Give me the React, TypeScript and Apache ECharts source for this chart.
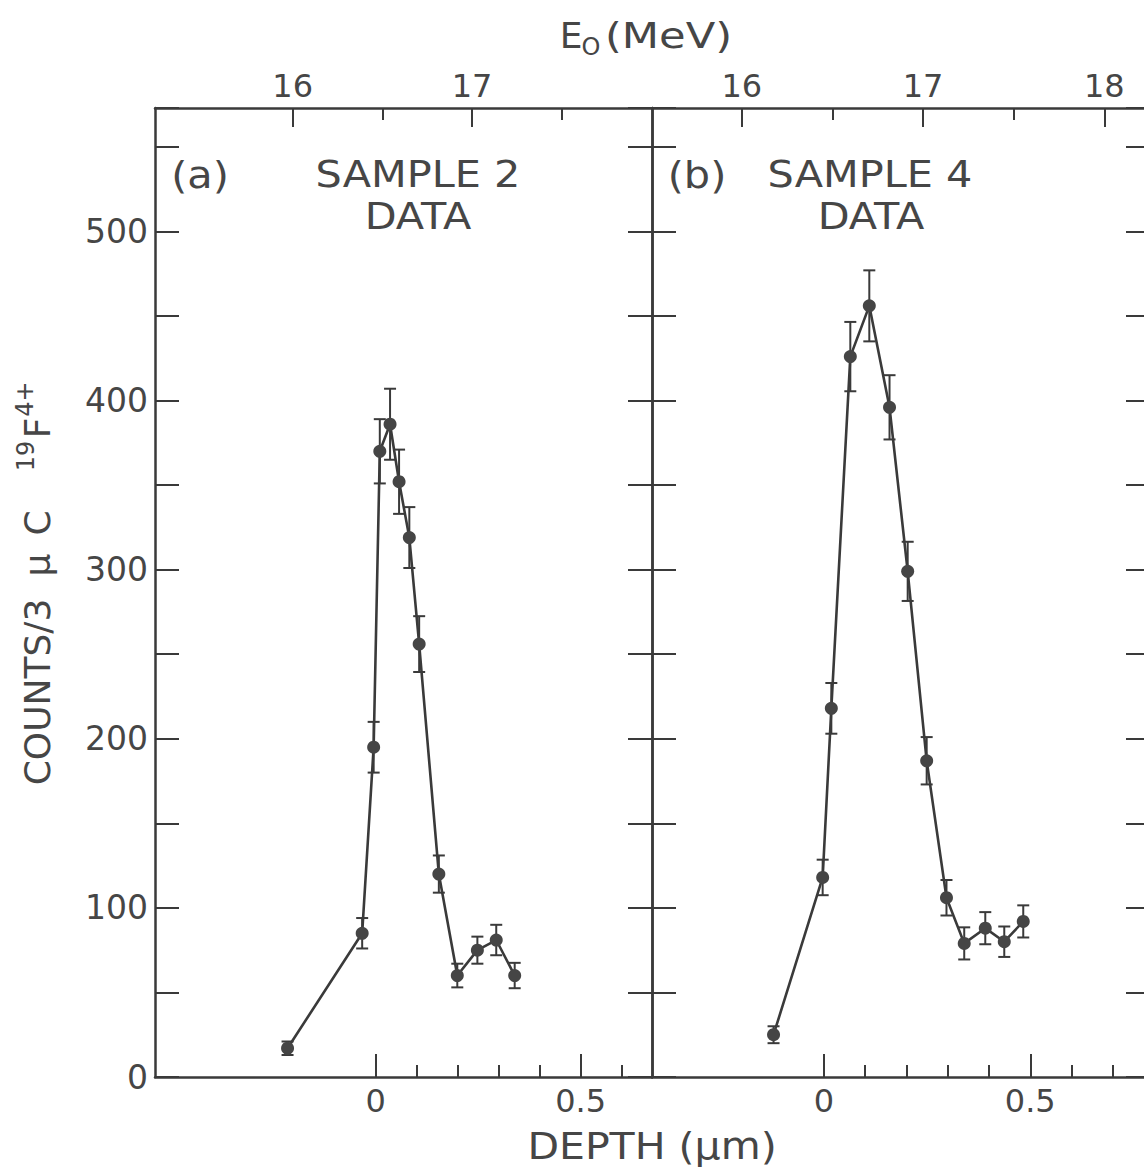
import React, { useEffect, useRef } from 'react';
import * as echarts from 'echarts';

// ---- data ----
const sample2Depth = [-0.215, -0.033, -0.005, 0.010, 0.035, 0.057, 0.082, 0.106, 0.154, 0.199, 0.248, 0.294, 0.339];
const sample2Counts = [17, 85, 195, 370, 386, 352, 319, 256, 120, 60, 75, 81, 60];
const sample2Err = [4, 9, 15, 19, 21, 19, 18, 16.5, 11, 7, 8, 9, 7.5];

const sample4Depth = [-0.122, -0.003, 0.018, 0.064, 0.110, 0.159, 0.203, 0.249, 0.297, 0.340, 0.391, 0.437, 0.483];
const sample4Counts = [25, 118, 218, 426, 456, 396, 299, 187, 106, 79, 88, 80, 92];
const sample4Err = [5, 10.5, 15, 20.5, 21, 19, 17.5, 14, 10.5, 9.5, 9.5, 9, 9.5];

const depthMajorTicks = [0, 0.5];
const depthMinorTicksA = [0.1, 0.2, 0.3, 0.4, 0.6];
const depthMinorTicksB = [0.1, 0.2, 0.3, 0.4, 0.6, 0.7];
const energyMajorTicksA = [16, 17];
const energyMinorTicksA = [16.5, 17.5];
const energyMajorTicksB = [16, 17, 18];
const energyMinorTicksB = [16.5, 17.5];
const countsLabelStep = 100;
const countsTickStep = 50;

// axis ranges (panel edges)
const depthRangeA = [-0.5383, 0.6739];
const depthRangeB = [-0.4165, 0.7901];
const energyRangeA = [15.232, 18.004];
const energyRangeB = [15.505, 18.252];
const countsRange = [0, 573];

const FONT = '"DejaVu Sans", "Liberation Sans", sans-serif';
const INK = '#3a3a3a';
const TXT = '#464646';

const GRID_TOP = 108;
const GRID_H = 969;

function errRender(params: any, api: any) {
  const x = api.value(0);
  const y = api.value(1);
  const e = api.value(2);
  const hi = api.coord([x, y + e]);
  const lo = api.coord([x, y - e]);
  const hw = 6;
  const style = { stroke: INK, lineWidth: 2 };
  return {
    type: 'group',
    children: [
      { type: 'line', shape: { x1: hi[0], y1: hi[1], x2: lo[0], y2: lo[1] }, style },
      { type: 'line', shape: { x1: hi[0] - hw, y1: hi[1], x2: hi[0] + hw, y2: hi[1] }, style },
      { type: 'line', shape: { x1: lo[0] - hw, y1: lo[1], x2: lo[0] + hw, y2: lo[1] }, style },
    ],
  };
}

function depthAxes(gridIndex: number, range: number[], minor: number[]) {
  const common = {
    type: 'value',
    gridIndex,
    position: 'bottom',
    min: range[0],
    max: range[1],
    splitLine: { show: false },
  };
  return [
    {
      ...common,
      axisLine: { show: true, onZero: false, lineStyle: { color: INK, width: 2.5 } },
      axisTick: { show: true, inside: true, length: 23, customValues: depthMajorTicks, lineStyle: { color: INK, width: 2 } },
      axisLabel: {
        show: true,
        customValues: depthMajorTicks,
        margin: 8,
        fontFamily: FONT,
        fontSize: 32,
        color: TXT,
        formatter: (v: number) => (v === 0 ? '0' : String(v)),
      },
    },
    {
      ...common,
      axisLine: { show: false, onZero: false },
      axisTick: { show: true, inside: true, length: 12, customValues: minor, lineStyle: { color: INK, width: 2 } },
      axisLabel: { show: false },
    },
  ];
}

function energyAxes(gridIndex: number, range: number[], major: number[], minor: number[]) {
  const common = {
    type: 'value',
    gridIndex,
    position: 'top',
    min: range[0],
    max: range[1],
    splitLine: { show: false },
  };
  return [
    {
      ...common,
      axisLine: { show: true, onZero: false, lineStyle: { color: INK, width: 2.5 } },
      axisTick: { show: true, inside: true, length: 19, customValues: major, lineStyle: { color: INK, width: 2 } },
      axisLabel: {
        show: true,
        customValues: major,
        margin: 6,
        fontFamily: FONT,
        fontSize: 32,
        color: TXT,
        formatter: (v: number) => String(Math.round(v)),
      },
    },
    {
      ...common,
      axisLine: { show: false, onZero: false },
      axisTick: { show: true, inside: true, length: 12, customValues: minor, lineStyle: { color: INK, width: 2 } },
      axisLabel: { show: false },
    },
  ];
}

function countsAxis(gridIndex: number, position: string, showLabels: boolean) {
  return {
    type: 'value',
    gridIndex,
    position,
    min: countsRange[0],
    max: countsRange[1],
    interval: countsTickStep,
    splitLine: { show: false },
    axisLine: { show: true, onZero: false, lineStyle: { color: INK, width: 2.5 } },
    axisTick: { show: true, inside: true, length: 24, lineStyle: { color: INK, width: 2 } },
    axisLabel: {
      show: showLabels,
      margin: 7,
      fontFamily: FONT,
      fontSize: 33,
      color: TXT,
      formatter: (v: number) => (Math.abs(v % countsLabelStep) < 1e-6 ? String(v) : ''),
    },
  };
}

function txt(text: string, x: number, y: number, size: number, align = 'center', extra: any = {}) {
  return {
    type: 'text',
    x,
    y,
    ...extra,
    style: {
      text,
      fill: TXT,
      font: `${size}px ${FONT}`,
      align,
      verticalAlign: 'middle',
    },
  };
}

const rot = { rotation: Math.PI / 2 };
const wide = { scaleX: 1.09 };

export default function App() {
  const ref = useRef<HTMLDivElement>(null);

  useEffect(() => {
    if (!ref.current) return;
    const chart = echarts.init(ref.current, undefined, { renderer: 'svg' });

    const s2 = sample2Depth.map((d, i) => [d, sample2Counts[i]]);
    const s2e = sample2Depth.map((d, i) => [d, sample2Counts[i], sample2Err[i]]);
    const s4 = sample4Depth.map((d, i) => [d, sample4Counts[i]]);
    const s4e = sample4Depth.map((d, i) => [d, sample4Counts[i], sample4Err[i]]);

    const lineSeries = (data: number[][], xi: number, yi: number) => ({
      type: 'line',
      data,
      xAxisIndex: xi,
      yAxisIndex: yi,
      symbol: 'circle',
      symbolSize: 13,
      showSymbol: true,
      clip: false,
      z: 3,
      lineStyle: { color: INK, width: 2.6 },
      itemStyle: { color: '#454545', borderWidth: 0 },
    });
    const errSeries = (data: number[][], xi: number, yi: number) => ({
      type: 'custom',
      data,
      xAxisIndex: xi,
      yAxisIndex: yi,
      encode: { x: 0, y: 1 },
      clip: false,
      z: 2,
      renderItem: errRender,
    });

    const option: any = {
      animation: false,
      backgroundColor: '#ffffff',
      grid: [
        { left: 155, top: GRID_TOP, width: 497, height: GRID_H, containLabel: false, outerBoundsMode: 'none' },
        { left: 652, top: GRID_TOP, width: 498, height: GRID_H, containLabel: false, outerBoundsMode: 'none' },
      ],
      xAxis: [
        ...depthAxes(0, depthRangeA, depthMinorTicksA),
        ...energyAxes(0, energyRangeA, energyMajorTicksA, energyMinorTicksA),
        ...depthAxes(1, depthRangeB, depthMinorTicksB),
        ...energyAxes(1, energyRangeB, energyMajorTicksB, energyMinorTicksB),
      ],
      yAxis: [
        countsAxis(0, 'left', true),
        countsAxis(0, 'right', false),
        countsAxis(1, 'left', false),
        countsAxis(1, 'right', false),
      ],
      series: [
        errSeries(s2e, 0, 0),
        lineSeries(s2, 0, 0),
        errSeries(s4e, 4, 2),
        lineSeries(s4, 4, 2),
      ],
      graphic: [
        txt('(a)', 200, 175, 38, 'center', wide),
        txt('SAMPLE 2', 418, 174, 38, 'center', wide),
        txt('DATA', 418, 216, 38, 'center', wide),
        txt('(b)', 697, 175, 38, 'center', wide),
        txt('SAMPLE 4', 870, 174, 38, 'center', wide),
        txt('DATA', 871, 216, 38, 'center', wide),
        txt('E', 571, 35, 36),
        txt('O', 591, 47, 24),
        txt('(MeV)', 605, 35, 36, 'left', { scaleX: 1.2 }),
        txt('DEPTH (μm)', 652, 1146, 38, 'center', { scaleX: 1.08 }),
        txt('COUNTS/3', 37, 692, 36, 'center', rot),
        txt('μ', 37, 565, 36, 'center', rot),
        txt('C', 37, 523, 36, 'center', rot),
        txt('19', 26, 456, 24, 'center', rot),
        txt('F', 37, 428, 36, 'center', rot),
        txt('4+', 25, 399, 24, 'center', rot),
      ],
    };

    chart.setOption(option);
    return () => chart.dispose();
  }, []);

  return (
    <div
      ref={ref}
      style={{ position: 'absolute', left: 0, top: 0, width: 1144, height: 1173, background: '#fff' }}
    />
  );
}
